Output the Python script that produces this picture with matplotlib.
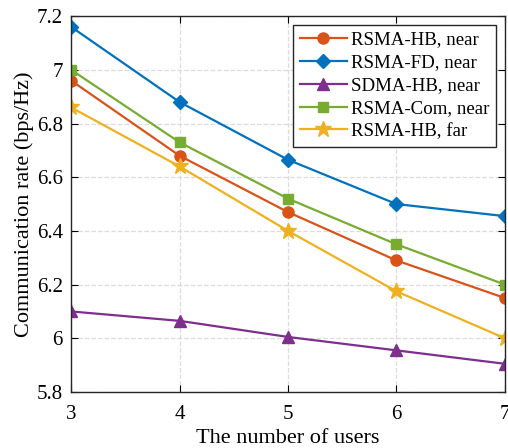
import matplotlib
matplotlib.use('Agg')
import matplotlib.pyplot as plt

plt.rcParams['font.family'] = ['Liberation Serif', 'DejaVu Serif']

users = [3, 4, 5, 6, 7]
rsma_hb_near = [6.96, 6.68, 6.47, 6.29, 6.15]
rsma_fd_near = [7.16, 6.88, 6.665, 6.50, 6.455]
sdma_hb_near = [6.10, 6.065, 6.005, 5.955, 5.905]
rsma_com_near = [7.00, 6.73, 6.52, 6.35, 6.20]
rsma_hb_far = [6.86, 6.64, 6.40, 6.175, 6.00]

fig = plt.figure(figsize=(5.08, 4.48), dpi=100)
ax = fig.add_axes([0.140, 0.125, 0.854, 0.839])

ax.plot(users, rsma_hb_near, color='#D95319', marker='o', ms=8, lw=1.6, label='RSMA-HB, near')
ax.plot(users, rsma_fd_near, color='#0072BD', marker='D', ms=7, lw=1.6, label='RSMA-FD, near')
ax.plot(users, sdma_hb_near, color='#7E2F8E', marker='^', ms=9, lw=1.6, label='SDMA-HB, near')
ax.plot(users, rsma_com_near, color='#77AC30', marker='s', ms=7, lw=1.6, label='RSMA-Com, near')
ax.plot(users, rsma_hb_far, color='#EDB120', marker='*', ms=12, lw=1.6, label='RSMA-HB, far')

ax.set_xlim(3, 7)
ax.set_ylim(5.8, 7.2)
ax.set_xticks(users)
ax.set_yticks([5.8, 6.0, 6.2, 6.4, 6.6, 6.8, 7.0, 7.2])
ax.set_yticklabels(['5.8', '6', '6.2', '6.4', '6.6', '6.8', '7', '7.2'])
ax.tick_params(direction='in', labelsize=15, top=True, right=True, length=5)
ax.tick_params(axis='x', pad=9)
ax.tick_params(axis='y', pad=6)
ax.grid(True, ls='--', color='#dcdcdc', lw=0.9)
ax.set_axisbelow(True)
for s in ax.spines.values():
    s.set_linewidth(1.0)
    s.set_color('#262626')

ax.set_xlabel('The number of users', fontsize=16, labelpad=4)
ax.set_ylabel('Communication rate (bps/Hz)', fontsize=16, labelpad=2)

leg = ax.legend(loc='upper right', fontsize=13.6, fancybox=False, framealpha=1,
                edgecolor='#262626', handlelength=2.5, handletextpad=0.25,
                labelspacing=0.3, borderpad=0.35, borderaxespad=0.45)
leg.get_frame().set_linewidth(1.0)

fig.savefig('out.png', dpi=100)
